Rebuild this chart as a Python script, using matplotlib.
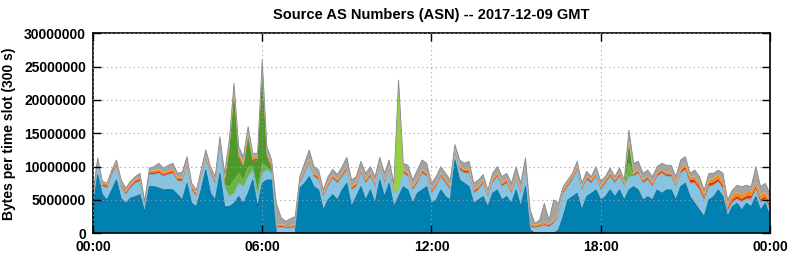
import numpy as np
import matplotlib.pyplot as plt
from matplotlib.ticker import MultipleLocator, FuncFormatter

plt.rcParams['font.family'] = ['Liberation Sans', 'DejaVu Sans']
plt.rcParams['font.weight'] = 'bold'

# 10-minute samples, 00:00 .. 24:00, values in millions of bytes
total = [
    6.0, 11.3, 7.8, 7.5, 9.5, 11.0, 8.0, 6.8, 7.8, 8.5, 9.0, 4.8,
    9.8, 10.0, 10.5, 9.8, 10.2, 10.5, 9.0, 9.2, 11.5, 7.5, 6.5, 9.5,
    12.5, 10.0, 8.5, 14.5, 9.0, 14.0, 22.5, 13.0, 11.5, 16.0, 12.0, 12.0,
    26.0, 13.0, 11.0, 4.5, 2.4, 1.8, 2.2, 2.5, 8.5, 10.5, 12.5, 10.0,
    9.5, 6.5, 8.5, 9.6, 8.8, 10.0, 11.4, 8.0, 8.5, 10.8, 9.0, 10.0,
    8.5, 11.4, 9.0, 11.0, 7.5, 23.0, 10.5, 10.2, 8.0, 9.5, 11.0, 10.5,
    7.5, 8.5, 10.0, 9.0, 8.0, 13.3, 11.0, 10.5, 10.8, 7.5, 8.0, 8.8,
    6.5, 9.0, 10.0, 8.5, 9.0, 7.5, 10.0, 7.5, 11.3, 3.5, 1.5, 2.0,
    4.5, 2.0, 5.0, 4.5, 7.0, 8.0, 9.0, 10.8, 7.5, 9.3, 8.5, 10.0,
    7.8, 8.5, 9.8, 8.5, 9.8, 8.0, 15.5, 10.5, 10.8, 9.0, 9.5, 8.5,
    10.0, 10.5, 10.2, 10.2, 8.5, 11.0, 11.5, 9.0, 9.5, 8.5, 6.5, 9.0,
    9.0, 9.5, 9.0, 5.0, 6.5, 7.2, 7.0, 7.2, 7.0, 10.0, 7.0, 7.5,
    6.0]

blue = [
    3.8, 8.8, 5.8, 5.0, 6.5, 8.0, 5.2, 4.5, 5.3, 5.5, 5.8, 3.2,
    7.0, 7.0, 6.8, 6.5, 6.6, 6.5, 5.8, 5.0, 7.5, 4.5, 4.0, 6.5,
    9.5, 6.0, 5.0, 9.0, 4.0, 4.0, 4.5, 5.5, 4.5, 6.0, 8.0, 4.0,
    7.5, 8.0, 8.0, 0.0, 0.0, 0.0, 0.0, 0.0, 6.8, 7.5, 8.5, 7.0,
    6.5, 3.5, 5.0, 5.8, 5.0, 6.5, 7.5, 4.0, 5.5, 7.0, 5.0, 6.5,
    4.5, 8.0, 5.5, 7.5, 4.0, 5.5, 7.0, 6.5, 4.5, 6.0, 6.5, 7.0,
    4.5, 5.0, 6.5, 5.5, 5.0, 11.0, 8.0, 7.5, 7.0, 4.5, 5.0, 5.5,
    4.0, 6.0, 6.5, 5.0, 5.5, 4.5, 6.5, 4.0, 7.0, 0.5, 0.0, 0.0,
    0.0, 0.0, 0.0, 0.5, 2.5, 5.0, 5.5, 6.0, 3.5, 5.5, 6.0, 6.5,
    5.0, 5.5, 6.5, 5.5, 6.5, 5.0, 6.5, 7.0, 6.5, 5.0, 5.5, 5.0,
    6.5, 6.0, 6.5, 6.5, 5.0, 7.0, 7.5, 5.5, 4.5, 3.5, 2.5, 5.0,
    5.5, 6.5, 5.5, 2.5, 4.0, 4.5, 3.5, 4.5, 4.0, 5.5, 3.5, 4.5,
    2.5]

# top of the light blue layer
light_top = [
    5.0, 10.5, 7.0, 6.8, 8.8, 10.0, 7.0, 5.8, 6.8, 7.5, 7.8, 4.2,
    8.8, 8.8, 9.0, 8.5, 8.8, 9.0, 7.8, 7.8, 10.0, 6.5, 5.5, 8.5,
    11.0, 9.0, 7.5, 13.0, 7.0, 5.5, 6.0, 7.5, 7.0, 8.5, 9.5, 5.5,
    9.0, 9.5, 9.0, 0.8, 0.9, 0.8, 0.8, 0.9, 7.5, 9.0, 10.5, 8.5,
    8.0, 5.5, 7.0, 8.2, 7.5, 8.5, 9.5, 6.5, 7.0, 9.0, 7.5, 8.5,
    7.0, 10.0, 7.5, 9.5, 6.0, 6.5, 9.0, 8.5, 6.5, 7.5, 9.0, 8.5,
    6.0, 7.0, 8.5, 7.5, 6.5, 12.0, 9.5, 9.0, 9.0, 6.0, 6.5, 7.5,
    5.5, 7.5, 8.5, 7.0, 7.5, 6.0, 8.0, 6.0, 9.5, 1.0, 0.8, 1.0,
    1.2, 1.0, 1.5, 2.5, 6.0, 7.0, 8.0, 9.5, 6.5, 8.0, 7.5, 8.5,
    6.5, 7.5, 8.5, 7.5, 8.5, 7.0, 8.5, 8.5, 9.0, 7.5, 8.0, 7.0,
    8.5, 9.0, 8.5, 8.5, 7.0, 9.0, 9.5, 7.5, 7.5, 6.5, 5.0, 7.0,
    7.2, 7.7, 6.7, 3.3, 4.6, 5.1, 4.7, 5.1, 5.1, 6.6, 4.6, 5.1,
    3.7]

midgreen = [
    0.0, 0.0, 0.0, 0.0, 0.0, 0.0, 0.0, 0.0, 0.0, 0.0, 0.0, 0.0,
    0.0, 0.0, 0.0, 0.0, 0.0, 0.0, 0.0, 0.0, 0.0, 0.0, 0.0, 0.0,
    0.0, 0.0, 0.0, 0.0, 0.3, 1.5, 2.0, 1.5, 1.0, 1.5, 0.5, 1.0,
    1.5, 0.5, 0.3, 0.0, 0.0, 0.0, 0.0, 0.0, 0.0, 0.0, 0.0, 0.0,
    0.0, 0.0, 0.0, 0.0, 0.0, 0.0, 0.0, 0.0, 0.0, 0.0, 0.0, 0.0,
    0.0, 0.0, 0.0, 0.0, 0.0, 0.0, 0.0, 0.0, 0.0, 0.0, 0.0, 0.0,
    0.0, 0.0, 0.0, 0.0, 0.0, 0.0, 0.0, 0.0, 0.0, 0.0, 0.0, 0.0,
    0.0, 0.0, 0.0, 0.0, 0.0, 0.0, 0.0, 0.0, 0.0, 0.0, 0.0, 0.0,
    0.0, 0.0, 0.0, 0.0, 0.0, 0.0, 0.0, 0.0, 0.0, 0.0, 0.0, 0.0,
    0.0, 0.0, 0.0, 0.0, 0.0, 0.0, 2.0, 0.0, 0.0, 0.0, 0.0, 0.0,
    0.0, 0.0, 0.0, 0.0, 0.0, 0.0, 0.0, 0.0, 0.0, 0.0, 0.0, 0.0,
    0.0, 0.0, 0.0, 0.0, 0.0, 0.0, 0.0, 0.0, 0.0, 0.0, 0.0, 0.0,
    0.0]

darkgreen = [
    0.1, 0.1, 0.1, 0.1, 0.1, 0.1, 0.1, 0.1, 0.1, 0.1, 0.1, 0.1,
    0.1, 0.1, 0.1, 0.1, 0.1, 0.1, 0.1, 0.1, 0.1, 0.1, 0.1, 0.1,
    0.1, 0.1, 0.1, 0.3, 0.5, 5.5, 13.0, 2.5, 2.0, 4.5, 0.8, 4.5,
    13.5, 1.5, 0.6, 0.0, 0.0, 0.0, 0.0, 0.0, 0.1, 0.1, 0.1, 0.1,
    0.1, 0.1, 0.1, 0.1, 0.1, 0.1, 0.1, 0.1, 0.1, 0.1, 0.1, 0.1,
    0.1, 0.1, 0.1, 0.1, 0.1, 0.1, 0.1, 0.1, 0.1, 0.1, 0.1, 0.1,
    0.1, 0.1, 0.1, 0.1, 0.1, 0.1, 0.1, 0.1, 0.1, 0.1, 0.1, 0.1,
    0.1, 0.1, 0.1, 0.1, 0.1, 0.1, 0.1, 0.1, 0.1, 0.0, 0.0, 0.0,
    0.0, 0.0, 0.0, 0.0, 0.1, 0.1, 0.1, 0.1, 0.1, 0.1, 0.1, 0.1,
    0.1, 0.1, 0.1, 0.1, 0.1, 0.1, 3.0, 0.1, 0.1, 0.1, 0.1, 0.1,
    0.1, 0.1, 0.1, 0.1, 0.1, 0.1, 0.1, 0.1, 0.1, 0.1, 0.1, 0.1,
    0.1, 0.1, 0.1, 0.1, 0.1, 0.1, 0.1, 0.1, 0.1, 0.1, 0.1, 0.1,
    0.1]

lime = [
    0.0, 0.0, 0.0, 0.0, 0.0, 0.0, 0.0, 0.0, 0.0, 0.0, 0.0, 0.0,
    0.0, 0.0, 0.0, 0.0, 0.0, 0.0, 0.0, 0.0, 0.0, 0.0, 0.0, 0.0,
    0.0, 0.0, 0.0, 0.0, 0.0, 0.0, 0.0, 0.0, 0.0, 0.0, 0.0, 0.0,
    0.0, 0.0, 0.0, 0.0, 0.0, 0.0, 0.0, 0.0, 0.0, 0.0, 0.0, 0.0,
    0.0, 0.0, 0.0, 0.0, 0.0, 0.0, 0.0, 0.0, 0.0, 0.0, 0.0, 0.0,
    0.0, 0.0, 0.0, 0.0, 0.0, 15.0, 0.0, 0.0, 0.0, 0.0, 0.0, 0.0,
    0.0, 0.0, 0.0, 0.0, 0.0, 0.0, 0.0, 0.0, 0.0, 0.0, 0.0, 0.0,
    0.0, 0.0, 0.0, 0.0, 0.0, 0.0, 0.0, 0.0, 0.0, 0.0, 0.0, 0.0,
    0.0, 0.0, 0.0, 0.0, 0.0, 0.0, 0.0, 0.0, 0.0, 0.0, 0.0, 0.0,
    0.0, 0.0, 0.0, 0.0, 0.0, 0.0, 0.0, 0.0, 0.0, 0.0, 0.0, 0.0,
    0.0, 0.0, 0.0, 0.0, 0.0, 0.0, 0.0, 0.0, 0.0, 0.0, 0.0, 0.0,
    0.0, 0.0, 0.0, 0.0, 0.0, 0.0, 0.0, 0.0, 0.0, 0.0, 0.0, 0.0,
    0.0]

red = [
    0.25, 0.25, 0.25, 0.25, 0.25, 0.25, 0.25, 0.25, 0.25, 0.25, 0.25, 0.25,
    0.25, 0.25, 0.25, 0.25, 0.25, 0.25, 0.25, 0.25, 0.25, 0.25, 0.25, 0.25,
    0.25, 0.25, 0.25, 0.25, 0.25, 0.25, 0.25, 0.25, 0.25, 0.25, 0.25, 0.25,
    0.25, 0.25, 0.25, 0.2, 0.2, 0.2, 0.2, 0.2, 0.25, 0.25, 0.25, 0.25,
    0.25, 0.25, 0.25, 0.25, 0.25, 0.25, 0.25, 0.25, 0.25, 0.25, 0.25, 0.25,
    0.25, 0.25, 0.25, 0.25, 0.25, 0.25, 0.25, 0.25, 0.25, 0.25, 0.25, 0.25,
    0.25, 0.25, 0.25, 0.25, 0.25, 0.25, 0.25, 0.25, 0.25, 0.25, 0.25, 0.25,
    0.25, 0.25, 0.25, 0.25, 0.25, 0.25, 0.25, 0.25, 0.25, 0.2, 0.2, 0.2,
    0.2, 0.2, 0.2, 0.2, 0.25, 0.25, 0.25, 0.25, 0.25, 0.25, 0.25, 0.25,
    0.25, 0.25, 0.25, 0.25, 0.25, 0.25, 0.25, 0.25, 0.25, 0.25, 0.25, 0.25,
    0.25, 0.25, 0.25, 0.25, 0.25, 0.25, 0.4, 0.4, 0.4, 0.4, 0.4, 0.4,
    0.4, 0.4, 0.4, 0.4, 0.4, 0.4, 0.4, 0.4, 0.4, 0.4, 0.4, 0.4,
    0.4]

orange = [
    0.25, 0.25, 0.25, 0.25, 0.25, 0.25, 0.25, 0.25, 0.25, 0.25, 0.25, 0.25,
    0.25, 0.25, 0.25, 0.25, 0.25, 0.25, 0.25, 0.25, 0.25, 0.25, 0.25, 0.25,
    0.25, 0.25, 0.25, 0.25, 0.25, 0.25, 0.25, 0.25, 0.25, 0.25, 0.25, 0.25,
    0.25, 0.25, 0.25, 0.25, 0.25, 0.25, 0.25, 0.25, 0.25, 0.25, 0.25, 0.25,
    0.25, 0.25, 0.25, 0.25, 0.25, 0.25, 0.25, 0.25, 0.25, 0.25, 0.25, 0.25,
    0.25, 0.25, 0.25, 0.25, 0.25, 0.25, 0.25, 0.25, 0.25, 0.25, 0.25, 0.25,
    0.25, 0.25, 0.25, 0.25, 0.25, 0.25, 0.25, 0.25, 0.25, 0.25, 0.25, 0.25,
    0.25, 0.25, 0.25, 0.25, 0.25, 0.25, 0.25, 0.25, 0.25, 0.25, 0.25, 0.25,
    0.25, 0.25, 0.25, 0.25, 0.25, 0.25, 0.25, 0.25, 0.25, 0.25, 0.25, 0.25,
    0.25, 0.25, 0.25, 0.25, 0.25, 0.25, 0.25, 0.25, 0.25, 0.25, 0.25, 0.25,
    0.25, 0.25, 0.25, 0.25, 0.25, 0.25, 0.5, 0.5, 0.5, 0.5, 0.5, 0.5,
    0.6, 0.6, 0.6, 0.6, 0.6, 0.6, 0.6, 0.6, 0.6, 0.6, 0.6, 0.6,
    0.6]

hours = np.arange(len(total)) / 6.0
M = 1e6
blue_l = np.array(blue) * M
light_l = (np.array(light_top) - np.array(blue)) * M
mid_l = np.array(midgreen) * M
dark_l = np.array(darkgreen) * M
lime_l = np.array(lime) * M
red_l = np.array(red) * M
orange_l = np.array(orange) * M
gray_l = np.clip(np.array(total) * M - (blue_l + light_l + mid_l + dark_l + lime_l + red_l + orange_l), 0, None)

layers = [blue_l, light_l, mid_l, dark_l, lime_l, red_l, orange_l, gray_l]
colors = ['#0081b1', '#88c3e2', '#6cb544', '#4d9a2b', '#93d43e', '#d8361a', '#f28c12', '#a4a4a4']

fig = plt.figure(figsize=(7.92, 2.59), dpi=100)
ax = fig.add_axes([0.1174, 0.0992, 0.8548, 0.7722])
ax.stackplot(hours, layers, colors=colors, linewidth=0)
cum = np.cumsum(layers, axis=0)
# thin darker outlines like the original
ax.plot(hours, cum[0], color='#006b95', lw=0.6)
ax.plot(hours, cum[1], color='#78b4d6', lw=0.4)
ax.plot(hours, cum[-1], color='#888888', lw=0.6)

ax.set_xlim(0, 24)
ax.set_ylim(0, 30e6)
ax.xaxis.set_major_locator(MultipleLocator(6))
ax.yaxis.set_major_locator(MultipleLocator(5e6))
ax.xaxis.set_major_formatter(FuncFormatter(lambda v, p: '%02d:00' % (int(round(v)) % 24)))
ax.yaxis.set_major_formatter(FuncFormatter(lambda v, p: '%d' % v))
ax.tick_params(direction='in', length=6, width=1, top=True, right=True,
               labelsize=10, pad=5)
for lab in ax.get_xticklabels() + ax.get_yticklabels():
    lab.set_fontweight('bold')
ax.grid(True, color='#a0a0a0', linestyle=(0, (1, 3)), lw=0.8)
ax.set_axisbelow(False)
for s in ax.spines.values():
    s.set_linewidth(1.2)

ax.set_title('Source AS Numbers (ASN) -- 2017-12-09 GMT', fontsize=10.5,
             fontweight='bold', pad=10)
ax.set_ylabel('Bytes per time slot (300 s)', fontsize=10, fontweight='bold', labelpad=6)

fig.savefig('out.png', dpi=100)
